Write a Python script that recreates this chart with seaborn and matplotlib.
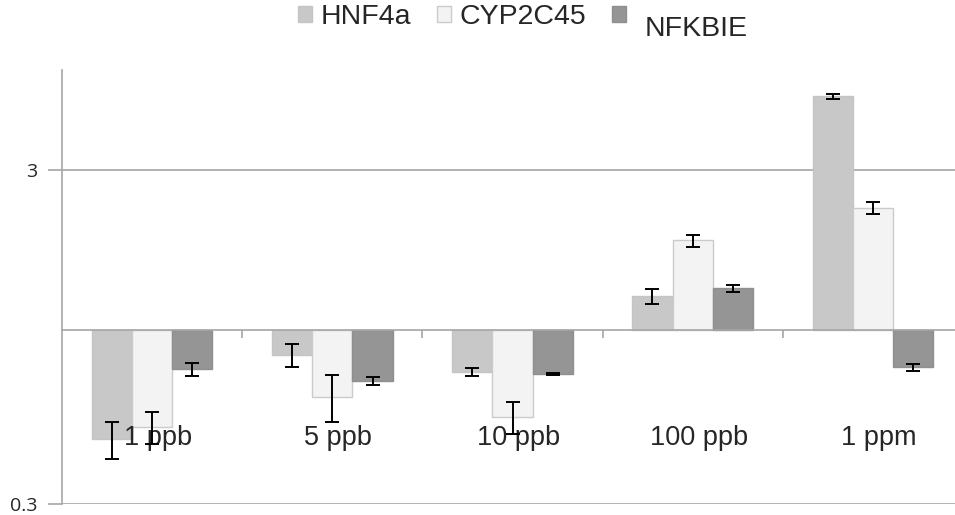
import numpy as np
import pandas as pd
import matplotlib.pyplot as plt
import seaborn as sns
from matplotlib.transforms import ScaledTranslation
from matplotlib.ticker import FixedLocator

# Data (fold change, log axis)
doses = ['1 ppb', '5 ppb', '10 ppb', '100 ppb', '1 ppm']
genes = ['HNF4a', 'CYP2C45', 'NFKBIE']
hnf4a = [0.47, 0.84, 0.745, 1.26, 5.0]
cyp2c45 = [0.51, 0.63, 0.547, 1.85, 2.31]
nfkbie = [0.76, 0.70, 0.736, 1.33, 0.77]
hnf4a_err = [0.06, 0.066, 0.02, 0.063, 0.10]
cyp2c45_err = [0.056, 0.10, 0.06, 0.077, 0.097]
nfkbie_err = [0.032, 0.02, 0.005, 0.032, 0.019]
y_ticks = [0.3, 3]
y_max = 6

fills = ['#c8c8c8', '#f3f3f3', '#959595']
edges = ['#c4c4c4', '#cbcbcb', '#8f8f8f']
grey = '#a6a6a6'

rows = []
for gene, vals, errs in zip(genes, [hnf4a, cyp2c45, nfkbie],
                            [hnf4a_err, cyp2c45_err, nfkbie_err]):
    for d, v, e in zip(doses, vals, errs):
        rows.append({'dose': d, 'gene': gene, 'fold': v, 'err': e})
df = pd.DataFrame(rows)
df['log_fold'] = np.log10(df['fold'])

sns.set_style('white')
plt.rcParams['font.family'] = ['Liberation Sans', 'DejaVu Sans']

fig = plt.figure(figsize=(9.55, 5.15), dpi=100)
ax = fig.add_axes([62 / 955, 1 - 504 / 515, 901 / 955, 434 / 515])

sns.barplot(data=df, x='dose', y='log_fold', hue='gene', order=doses,
            hue_order=genes, palette=fills, width=0.67, linewidth=1,
            saturation=1, ax=ax, legend=False)

# per-series edge colours + error bars (asymmetric on the log axis)
for container, gene, ec in zip(ax.containers, genes, edges):
    sub = df[df['gene'] == gene].set_index('dose').loc[doses]
    xs = []
    for p in container.patches:
        p.set_edgecolor(ec)
        xs.append(p.get_x() + p.get_width() / 2)
    v = sub['fold'].to_numpy()
    e = sub['err'].to_numpy()
    lo = np.log10(v) - np.log10(v - e)
    hi = np.log10(v + e) - np.log10(v)
    ax.errorbar(xs, np.log10(v), yerr=[lo, hi], fmt='none', ecolor='black',
                elinewidth=1.4, capsize=5, capthick=1.4, zorder=5)

ax.set_ylim(np.log10(y_ticks[0]), np.log10(y_max))
ax.set_yticks(np.log10(y_ticks))
ax.set_yticklabels([str(t) for t in y_ticks], family='Open Sans', fontsize=14)
ax.tick_params(axis='y', length=10, width=1.2, color=grey, pad=8, left=True)
# gridlines under the bars, axis labels above them
ax.grid(False)
for t in y_ticks:
    ax.axhline(np.log10(t), color=grey, linewidth=1.2, zorder=0.3)
ax.set_axisbelow('line')

# category axis crosses at 1
ax.spines['bottom'].set_position(('data', 0))
ax.spines['bottom'].set_color(grey)
ax.spines['bottom'].set_linewidth(1.2)
ax.spines['left'].set_color(grey)
ax.spines['left'].set_linewidth(1.2)
ax.spines['top'].set_visible(False)
ax.spines['right'].set_visible(False)
ax.set_xlim(-0.5, len(doses) - 0.5)
ax.xaxis.set_minor_locator(FixedLocator(np.arange(0.5, len(doses) - 1, 1)))
ax.tick_params(axis='x', which='major', length=0, pad=69, labelsize=19.5)
ax.tick_params(axis='x', which='minor', length=6, width=1.2, color=grey,
               bottom=True)
for lbl in ax.get_xticklabels():
    lbl.set_transform(lbl.get_transform() +
                      ScaledTranslation(0.06, 0, fig.dpi_scale_trans))
ax.set_xlabel('')
ax.set_ylabel('')

handles = [plt.Rectangle((0, 0), 1, 1, facecolor=f, edgecolor=ec)
           for f, ec in zip(fills, edges)]
leg = fig.legend(handles, genes, loc='upper center',
                 bbox_to_anchor=(518 / 955, 1.0), ncol=3, frameon=False,
                 fontsize=20.5, handlelength=0.5, handleheight=0.5,
                 handletextpad=0.3, columnspacing=0.9, borderaxespad=0.0,
                 borderpad=0.15)
t = leg.get_texts()[2]
t.set_transform(t.get_transform() +
                ScaledTranslation(0.10, -0.12, fig.dpi_scale_trans))

fig.savefig('out.png', dpi=100)
